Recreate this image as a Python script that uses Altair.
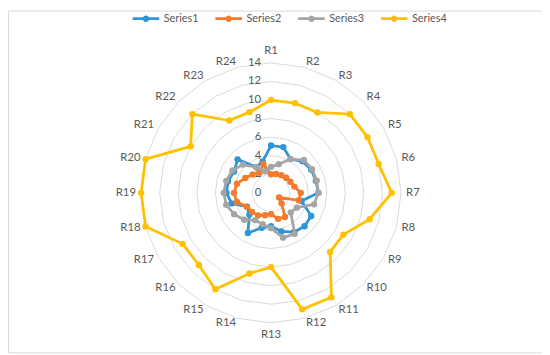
import altair as alt
import pandas as pd

categories = ["R1", "R2", "R3", "R4", "R5", "R6", "R7", "R8", "R9", "R10", "R11", "R12",
              "R13", "R14", "R15", "R16", "R17", "R18", "R19", "R20", "R21", "R22", "R23", "R24"]
series_names = ["Series1", "Series2", "Series3", "Series4"]
series1 = [5.1, 5.1, 4.2, 4.8, 5.0, 5.0, 5.1, 3.4, 5.0, 5.1, 4.9, 4.3,
           3.6, 3.9, 5.0, 3.3, 3.0, 4.4, 4.8, 4.8, 4.6, 5.1, 3.2, 3.5]
series2 = [2.0, 2.1, 2.2, 2.3, 2.4, 2.6, 3.2, 3.1, 1.0, 1.6, 3.0, 2.9,
           2.3, 2.5, 2.8, 2.9, 3.0, 3.8, 4.0, 3.8, 3.2, 2.8, 2.5, 3.2]
series3 = [2.8, 3.2, 4.2, 5.0, 5.1, 5.1, 5.1, 4.8, 3.2, 3.0, 5.1, 5.0,
           3.8, 3.5, 3.4, 4.1, 4.6, 5.0, 5.1, 5.0, 4.8, 4.3, 3.2, 2.4]
series4 = [10, 10, 10, 12, 12, 12, 13, 11, 9, 9, 13, 13,
           8, 9, 12, 11, 11, 14, 14, 14, 10, 12, 9, 9]
ring_values = [2, 4, 6, 8, 10, 12, 14]
axis_values = [0, 2, 4, 6, 8, 10, 12, 14]
colors = ["#2E95D8", "#F37B2B", "#A5A5A5", "#FFC000"]

W, H = 542, 347
CX, CY, UNIT = 267, 185, 9.42
XDOM = [-CX / UNIT, (W - CX) / UNIT]
YDOM = [-(H - CY) / UNIT, CY / UNIT]
N = len(categories)
FONT = "Lato"
TXT = "#595959"

rows = []
for name, vals in zip(series_names, [series1, series2, series3, series4]):
    for k in range(N + 1):
        rows.append({"series": name, "k": k, "cat": categories[k % N], "value": vals[k % N]})
series_df = pd.DataFrame(rows)
ring_df = pd.DataFrame([{"ring": r, "k": k} for r in ring_values for k in range(N + 1)])
cat_df = pd.DataFrame({"cat": categories, "k": list(range(N))})
axis_df = pd.DataFrame({"value": axis_values, "label": [str(v) for v in axis_values]})

xs = alt.Scale(domain=XDOM, nice=False, zero=False)
ys = alt.Scale(domain=YDOM, nice=False, zero=False)
X = alt.X("x:Q", scale=xs, axis=None)
Y = alt.Y("y:Q", scale=ys, axis=None)
cscale = alt.Scale(domain=series_names, range=colors)

ANG = f"datum.k * 2 * PI / {N}"

rings = alt.Chart(ring_df).transform_calculate(
    x=f"datum.ring * sin({ANG})", y=f"datum.ring * cos({ANG})"
).mark_line(color="#d9d9d9", strokeWidth=1).encode(
    x=X, y=Y, detail="ring:N", order="k:Q")

axis_labels = alt.Chart(axis_df).transform_calculate(
    x="0", y="datum.value"
).mark_text(align="right", baseline="middle", dx=-10, font=FONT, fontSize=11.5, color=TXT).encode(
    x=X, y=Y, text="label:N")

cat_base = alt.Chart(cat_df).transform_calculate(
    s=f"sin({ANG})", c=f"cos({ANG})"
).transform_calculate(
    rad="abs(datum.s) < 0.01 ? 15.3 : 14.55"
).transform_calculate(
    x="datum.rad * datum.s", y="datum.rad * datum.c")

cat_layers = []
for flt, al in [("datum.s > 0.01", "left"), ("datum.s < -0.01", "right"), ("abs(datum.s) <= 0.01", "center")]:
    cat_layers.append(cat_base.transform_filter(flt).mark_text(
        align=al, baseline="middle", font=FONT, fontSize=11.5, color=TXT).encode(
        x=X, y=Y, text="cat:N"))

legend = alt.Legend(
    title=None, orient="none", legendX=125, legendY=-7, direction="horizontal",
    symbolType="M-1,0H1M0.14,0A0.14,0.14,0,1,1,-0.14,0A0.14,0.14,0,1,1,0.14,0",
    symbolSize=729, symbolStrokeWidth=2.8, symbolOpacity=1,
    labelFont=FONT, labelFontSize=11, labelColor=TXT, labelOffset=3,
    columnPadding=10, padding=0)

series_layers = []
for i, name in enumerate(series_names):
    sb = alt.Chart(series_df).transform_filter(
        alt.datum.series == name
    ).transform_calculate(
        x=f"datum.value * sin({ANG})", y=f"datum.value * cos({ANG})")
    line = sb.mark_line(strokeWidth=2.8, strokeJoin="round").encode(
        x=X, y=Y, order="k:Q",
        color=alt.Color("series:N", scale=cscale, legend=legend))
    pts = sb.transform_filter(f"datum.k < {N}").mark_circle(size=42, opacity=1).encode(
        x=X, y=Y, color=alt.Color("series:N", scale=cscale, legend=None))
    series_layers += [line, pts]

chart = alt.layer(rings, axis_labels, *cat_layers, *series_layers).properties(
    width=W, height=H, autosize=alt.AutoSizeParams(type="none"), padding=0
).configure_view(stroke="#d9d9d9", strokeWidth=1)

chart.save("out.html", embed_options={"renderer": "svg", "actions": False})
